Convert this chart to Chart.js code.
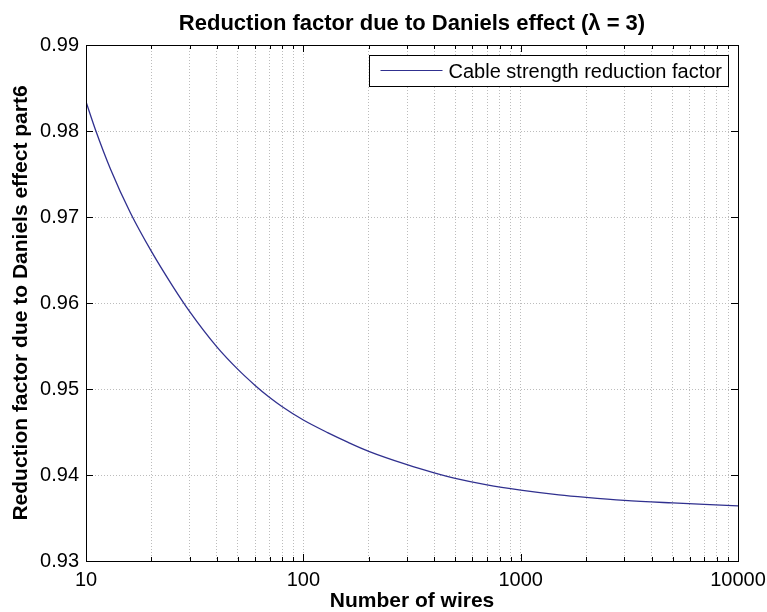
<!DOCTYPE html>
<html>
<head>
<meta charset="utf-8">
<script src="https://cdn.jsdelivr.net/npm/chart.js@4/dist/chart.umd.min.js"></script>
<style>
  html, body { margin: 0; padding: 0; background: #fff; }
  #wrap { width: 767px; height: 612px; }
</style>
</head>
<body>
<div id="wrap"><canvas id="danielsChart" width="767" height="612"></canvas></div>
<script>
// values
var wires = [10, 11, 13, 16, 20, 25, 30, 40, 50, 60, 70, 80, 100, 130, 160, 200, 300, 400, 500, 700,
  1000, 1500, 2000, 3000, 5000, 7000, 10000];
var reduction = [0.9834, 0.9803, 0.9755, 0.9705, 0.9660, 0.9620, 0.9590, 0.9549, 0.95228, 0.95042, 0.94901,
  0.94794, 0.94639, 0.94490, 0.94382, 0.94275, 0.94120, 0.94025, 0.93960, 0.93885,
  0.93825, 0.93770, 0.93740, 0.93705, 0.93675, 0.93658, 0.93642];

var xDecades = [10, 100, 1000, 10000];
var yTicks = [0.93, 0.94, 0.95, 0.96, 0.97, 0.98, 0.99];

var titleText = 'Reduction factor due to Daniels effect (\u03BB = 3)';
var xTitle = 'Number of wires';
var yTitle = 'Reduction factor due to Daniels effect part6';
var seriesLabel = 'Cable strength reduction factor';

var FONT = "'Liberation Sans', Arial, Helvetica, sans-serif";
var lineColor = '#30308f';

// minor + major tick positions on the log axis
var xTicks = [];
for (var d = 0; d < xDecades.length - 1; d++) {
  for (var k = 1; k < 10; k++) xTicks.push(xDecades[d] * k);
}
xTicks.push(xDecades[xDecades.length - 1]);

var matlabFrame = {
  id: 'matlabFrame',
  afterDraw: function (chart) {
    var ctx = chart.ctx;
    var a = chart.chartArea;
    var xs = chart.scales.x, ys = chart.scales.y;
    ctx.save();
    // axes box
    ctx.strokeStyle = '#000';
    ctx.lineWidth = 1;
    ctx.strokeRect(a.left + 0.5, a.top + 0.5, a.right - a.left, a.bottom - a.top);
    // inner ticks
    ctx.beginPath();
    xTicks.forEach(function (v) {
      var px = Math.round(xs.getPixelForValue(v)) + 0.5;
      var len = xDecades.indexOf(v) >= 0 ? 7 : 4;
      ctx.moveTo(px, a.bottom); ctx.lineTo(px, a.bottom - len);
      ctx.moveTo(px, a.top); ctx.lineTo(px, a.top + len);
    });
    yTicks.forEach(function (v) {
      var py = Math.round(ys.getPixelForValue(v)) + 0.5;
      ctx.moveTo(a.left, py); ctx.lineTo(a.left + 7, py);
      ctx.moveTo(a.right, py); ctx.lineTo(a.right - 7, py);
    });
    ctx.stroke();

    // title over the axes
    ctx.fillStyle = '#000';
    ctx.font = 'bold 22px ' + FONT;
    ctx.textAlign = 'center';
    ctx.textBaseline = 'alphabetic';
    ctx.fillText(titleText, (a.left + a.right) / 2, 30);

    // legend box, top right
    ctx.font = '20px ' + FONT;
    var tw = ctx.measureText(seriesLabel).width;
    var boxR = a.right - 10, boxT = a.top + 10;
    var boxL = boxR - (tw + 86), boxB = boxT + 31;
    ctx.fillStyle = '#fff';
    ctx.fillRect(boxL, boxT, boxR - boxL, boxB - boxT);
    ctx.strokeStyle = '#000';
    ctx.strokeRect(Math.round(boxL) + 0.5, boxT + 0.5, Math.round(boxR - boxL), boxB - boxT);
    ctx.strokeStyle = lineColor;
    ctx.lineWidth = 1.2;
    ctx.beginPath();
    ctx.moveTo(boxL + 12, boxT + 15.5);
    ctx.lineTo(boxL + 74, boxT + 15.5);
    ctx.stroke();
    ctx.fillStyle = '#000';
    ctx.textAlign = 'left';
    ctx.fillText(seriesLabel, boxL + 80, boxT + 23);
    ctx.restore();
  }
};

var ctx = document.getElementById('danielsChart').getContext('2d');
var danielsChart = new Chart(ctx, {
  type: 'line',
  data: {
    datasets: [{
      label: seriesLabel,
      data: wires.map(function (w, i) { return { x: w, y: reduction[i] }; }),
      borderColor: lineColor,
      borderWidth: 1.3,
      pointRadius: 0,
      fill: false,
      cubicInterpolationMode: 'monotone'
    }]
  },
  options: {
    responsive: false,
    animation: false,
    devicePixelRatio: 1,
    layout: { padding: { top: 45, right: 29, left: 0, bottom: 0 } },
    plugins: {
      legend: { display: false },
      title: { display: false },
      tooltip: { enabled: false }
    },
    scales: {
      x: {
        type: 'logarithmic',
        min: 10,
        max: 10000,
        afterBuildTicks: function (scale) {
          scale.ticks = xTicks.map(function (v) { return { value: v }; });
        },
        afterFit: function (scale) {
          scale.height = 51;
          scale.paddingLeft = 0;
          scale.paddingRight = 0;
        },
        ticks: {
          autoSkip: false,
          maxRotation: 0,
          padding: 7,
          color: '#000',
          font: { family: FONT, size: 20 },
          callback: function (value) {
            return xDecades.indexOf(value) >= 0 ? String(value) : '';
          }
        },
        grid: { color: '#bcbcbc', lineWidth: 1, drawTicks: false },
        border: { display: false, dash: [1, 2] },
        title: {
          display: true,
          text: xTitle,
          color: '#000',
          font: { family: FONT, size: 21, weight: 'bold', lineHeight: 1 },
          padding: { top: 0, bottom: 0 }
        }
      },
      y: {
        min: 0.93,
        max: 0.99,
        afterBuildTicks: function (scale) {
          scale.ticks = yTicks.map(function (v) { return { value: v }; });
        },
        afterFit: function (scale) {
          scale.width = 86;
          scale.paddingTop = 0;
          scale.paddingBottom = 0;
        },
        ticks: {
          padding: 7,
          color: '#000',
          font: { family: FONT, size: 20 },
          callback: function (value) { return value.toFixed(2); }
        },
        grid: { color: '#bcbcbc', lineWidth: 1, drawTicks: false },
        border: { display: false, dash: [1, 2] },
        title: {
          display: true,
          text: yTitle,
          color: '#000',
          font: { family: FONT, size: 21, weight: 'bold', lineHeight: 1 },
          padding: { top: 11, bottom: 0 }
        }
      }
    }
  },
  plugins: [matlabFrame]
});
</script>
</body>
</html>
